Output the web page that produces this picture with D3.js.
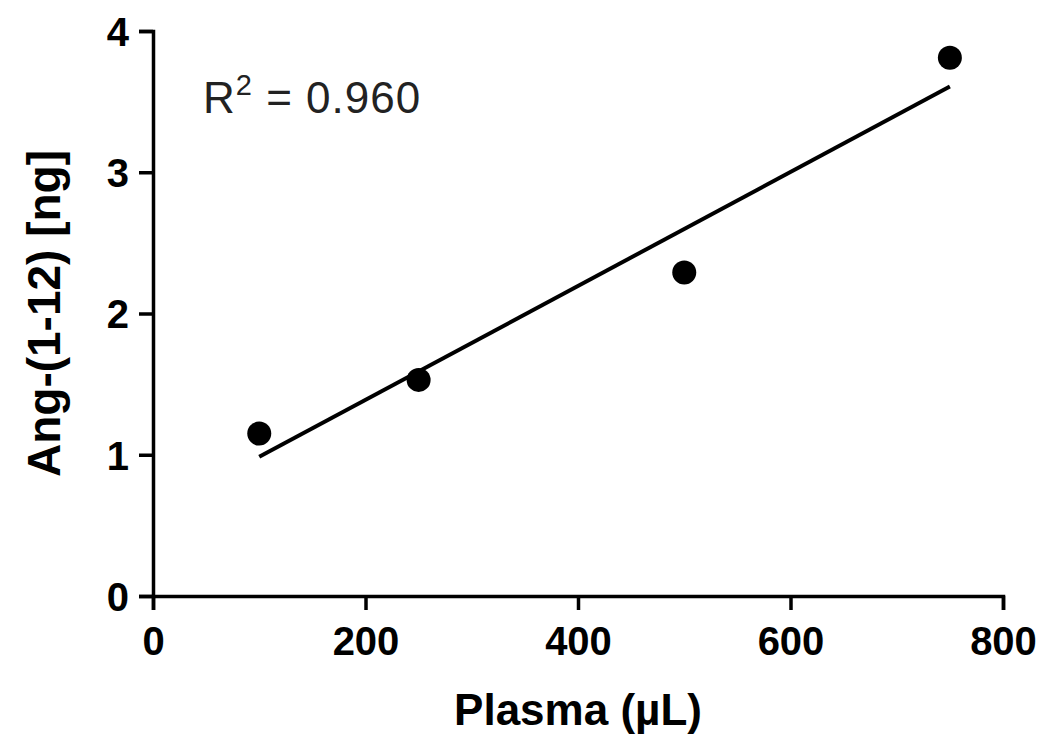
<!DOCTYPE html>
<html>
<head>
<meta charset="utf-8">
<script src="https://cdn.jsdelivr.net/npm/d3@7"></script>
<style>
  body { margin: 0; background: #fff; }
  svg { display: block; font-family: "Liberation Sans", Arial, sans-serif; }
</style>
</head>
<body>
<svg id="chart"></svg>
<script>
// data
const plasmaVolume = [100, 250, 500, 750];          // µL
const angAmount    = [1.15, 1.53, 2.29, 3.81];      // ng
const xTicks = [0, 200, 400, 600, 800];
const yTicks = [0, 1, 2, 3, 4];

const points = plasmaVolume.map((x, i) => ({ x, y: angAmount[i] }));

// least squares fit
const mx = d3.mean(points, d => d.x), my = d3.mean(points, d => d.y);
const sxy = d3.sum(points, d => (d.x - mx) * (d.y - my));
const sxx = d3.sum(points, d => (d.x - mx) ** 2);
const syy = d3.sum(points, d => (d.y - my) ** 2);
const slope = sxy / sxx, intercept = my - slope * mx;
const r2 = (sxy * sxy) / (sxx * syy);

const W = 1050, H = 755;
const margin = { top: 31, right: 47, bottom: 159, left: 153 },
      width = W - margin.left - margin.right,
      height = H - margin.top - margin.bottom;

const svg = d3.select("#chart").attr("width", W).attr("height", H);
const g = svg.append("g").attr("transform", `translate(${margin.left},${margin.top})`);

const x = d3.scaleLinear().domain([0, 800]).range([0, width]);
const y = d3.scaleLinear().domain([0, 4]).range([height, 0]);

const xAxis = g.append("g")
    .attr("transform", `translate(0,${height})`)
    .call(d3.axisBottom(x).tickValues(xTicks).tickSize(14).tickPadding(17).tickFormat(d3.format("d")));

const yAxis = g.append("g")
    .call(d3.axisLeft(y).tickValues(yTicks).tickSize(14).tickPadding(10).tickFormat(d3.format("d")));

[xAxis, yAxis].forEach(a => {
    a.selectAll("path, line").attr("stroke", "#000").attr("stroke-width", 3.5);
    a.selectAll("text")
        .attr("fill", "#000")
        .style("font-size", "40px")
        .style("font-weight", "bold");
});
yAxis.selectAll("text").attr("dy", "0.36em");

// regression line
const xr = d3.extent(plasmaVolume);
g.append("line")
    .attr("x1", x(xr[0])).attr("y1", y(intercept + slope * xr[0]))
    .attr("x2", x(xr[1])).attr("y2", y(intercept + slope * xr[1]))
    .attr("stroke", "#000")
    .attr("stroke-width", 4);

g.selectAll(".dot")
    .data(points)
    .enter().append("circle")
    .attr("class", "dot")
    .attr("cx", d => x(d.x))
    .attr("cy", d => y(d.y))
    .attr("r", 12)
    .attr("fill", "#000");

// R² label
const rt = g.append("text")
    .attr("x", 50)
    .attr("y", 82)
    .style("font-size", "44px")
    .style("letter-spacing", "1px")
    .attr("fill", "#222");
rt.append("tspan").text("R");
rt.append("tspan").attr("dy", -18).style("font-size", "29px").text("2");
rt.append("tspan").attr("dy", 18).text(" = " + d3.format(".3f")(r2));

// axis titles
svg.append("text")
    .attr("x", margin.left + width / 2)
    .attr("y", 725)
    .attr("text-anchor", "middle")
    .style("font-size", "44px")
    .style("font-weight", "bold")
    .text("Plasma (\u00B5L)");

svg.append("text")
    .attr("transform", `translate(60,${margin.top + height / 2}) rotate(-90)`)
    .attr("text-anchor", "middle")
    .style("font-size", "46px")
    .style("font-weight", "bold")
    .text("Ang-(1-12) [ng]");
</script>
</body>
</html>
